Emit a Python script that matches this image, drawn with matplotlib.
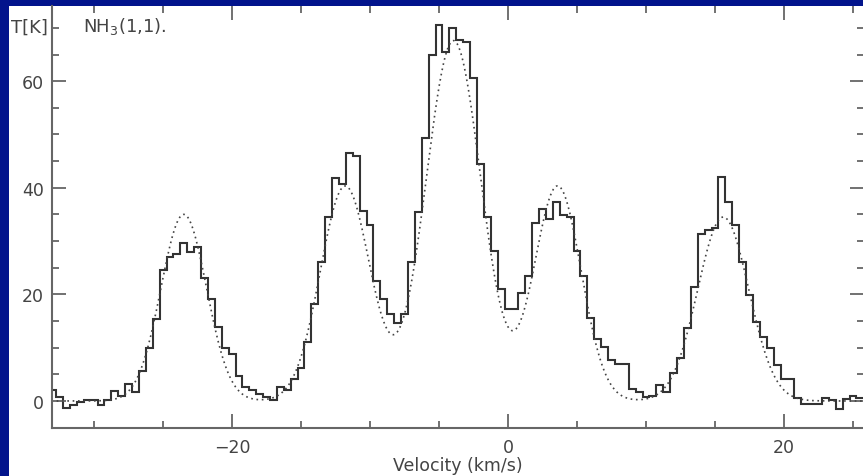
import matplotlib.pyplot as plt
from matplotlib.patches import Rectangle
from matplotlib.ticker import MultipleLocator
import numpy as np

# channel grid of the spectrum (km/s)
v_start = -33.0
chan_width = 0.5

# brightness temperature per channel, T [K]
temp = [
    2.1, 0.7, -1.4, -0.75, -0.25, 0.2, 0.2, -0.75, 0.2, 1.9,
    0.9, 3.1, 1.7, 5.7, 9.9, 15.3, 24.5, 27.0, 27.6, 29.6,
    28.0, 28.8, 23.0, 19.1, 13.8, 9.9, 8.8, 4.6, 2.6, 2.1,
    1.3, 0.7, 0.25, 2.6, 2.1, 4.1, 6.1, 11.0, 18.2, 26.1,
    34.6, 41.8, 40.7, 46.6, 46.0, 35.6, 33.0, 22.6, 19.1, 16.3,
    14.6, 16.3, 26.0, 35.5, 49.4, 64.9, 70.5, 65.4, 69.9, 67.8,
    67.3, 60.5, 44.5, 34.6, 28.2, 21.0, 17.3, 17.3, 20.2, 23.5,
    33.4, 36.1, 34.1, 37.4, 34.9, 34.6, 28.2, 23.4, 15.5, 11.6,
    10.1, 7.6, 6.9, 7.0, 2.3, 1.75, 0.7, 1.0, 3.0, 1.6,
    5.25, 8.1, 13.6, 21.3, 31.3, 32.1, 32.4, 42.0, 37.4, 33.0,
    26.0, 19.9, 14.8, 12.0, 10.0, 6.75, 4.1, 4.1, 0.56, -0.56,
    -0.5, -0.56, 0.5, 0.2, -1.5, 0.4, 0.9, 0.5,
]

# hyperfine fit components: centre (km/s), peak (K), sigma (km/s)
fit_center = [-23.5, -11.8, -3.95, 3.6, 15.6]
fit_peak = [35.0, 40.3, 67.6, 40.3, 34.5]
fit_sigma = [1.65, 1.8, 2.0, 1.7, 1.85]

temp = np.array(temp)
vel = v_start + chan_width * np.arange(len(temp))
edges = np.append(vel - chan_width / 2, vel[-1] + chan_width / 2)

vv = np.linspace(-33.5, 26.5, 1200)
fit = np.zeros_like(vv)
for c, a, s in zip(fit_center, fit_peak, fit_sigma):
    fit += a * np.exp(-0.5 * ((vv - c) / s) ** 2)

fig = plt.figure(figsize=(8.63, 4.77), dpi=100, facecolor="#02148c")
fig.patches.append(Rectangle((8.5 / 863, 0), 1, 470 / 477, transform=fig.transFigure,
                             facecolor="white", edgecolor="none", zorder=-10))
ax = fig.add_axes([52 / 863, 48 / 477, 812 / 863, 422 / 477])
ax.set_facecolor("white")

gray = "#666666"
txt = "#444444"
ax.stairs(temp, edges, baseline=None, color="#333333", lw=1.5)
ax.plot(vv, fit, color="#444444", lw=1.2, ls=(0, (1, 2.2)))

ax.set_xlim(-33.05, 25.8)
ax.set_ylim(-5.07, 74.1)
ax.xaxis.set_major_locator(MultipleLocator(20))
ax.xaxis.set_minor_locator(MultipleLocator(5))
ax.yaxis.set_major_locator(MultipleLocator(20))
ax.yaxis.set_minor_locator(MultipleLocator(5))
ax.tick_params(which="both", direction="in", top=True, right=True, color=gray,
               width=1.3, labelcolor=txt, labelsize=12.5)
ax.tick_params(which="major", length=10)
ax.tick_params(axis="x", which="major", pad=7)
ax.tick_params(axis="y", which="major", pad=6)
ax.tick_params(which="minor", length=5)
for side in ["left", "bottom"]:
    ax.spines[side].set_color(gray)
    ax.spines[side].set_linewidth(1.5)
for side in ["top", "right"]:
    ax.spines[side].set_visible(False)

ax.set_xlabel("Velocity (km/s)", fontsize=12.5, color=txt, labelpad=0)
fig.text(48 / 863, 1 - 28 / 477, "T[K]", ha="right", va="center", fontsize=13, color=txt)
ax.text(-30.8, 70.5, "NH$_3$(1,1).", ha="left", va="center", fontsize=13, color=txt)

fig.savefig("out.png", dpi=100, facecolor=fig.get_facecolor())
